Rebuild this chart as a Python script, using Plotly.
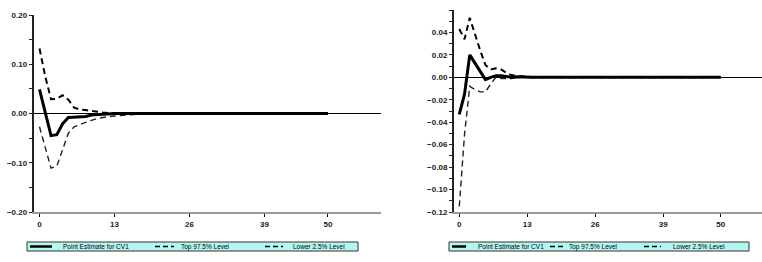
import plotly.graph_objects as go

# ---------------- data ----------------
periods = list(range(51))

# Left panel
left_point = [0.049, 0.002, -0.045, -0.043, -0.021, -0.008, -0.007, -0.007, -0.006, -0.003,
              -0.002, -0.001, 0.000, 0.000, 0.000, 0.000, 0.000, 0.000, 0.000, 0.000,
              0.000, 0.000, 0.000, 0.000, 0.000, 0.000, 0.000, 0.000, 0.000, 0.000,
              0.000, 0.000, 0.000, 0.000, 0.000, 0.000, 0.000, 0.000, 0.000, 0.000,
              0.000, 0.000, 0.000, 0.000, 0.000, 0.000, 0.000, 0.000, 0.000, 0.000, 0.000]
left_upper = [0.132, 0.075, 0.029, 0.030, 0.037, 0.028, 0.012, 0.008, 0.007, 0.005,
              0.004, 0.002, 0.001, 0.000, 0.000, 0.000, 0.000, 0.000, 0.000, 0.000,
              0.000, 0.000, 0.000, 0.000, 0.000, 0.000, 0.000, 0.000, 0.000, 0.000,
              0.000, 0.000, 0.000, 0.000, 0.000, 0.000, 0.000, 0.000, 0.000, 0.000,
              0.000, 0.000, 0.000, 0.000, 0.000, 0.000, 0.000, 0.000, 0.000, 0.000, 0.000]
left_lower = [-0.027, -0.072, -0.111, -0.107, -0.075, -0.040, -0.027, -0.022, -0.018, -0.014,
              -0.010, -0.008, -0.006, -0.005, -0.004, -0.003, -0.002, -0.001, 0.000, 0.000,
              0.000, 0.000, 0.000, 0.000, 0.000, 0.000, 0.000, 0.000, 0.000, 0.000,
              0.000, 0.000, 0.000, 0.000, 0.000, 0.000, 0.000, 0.000, 0.000, 0.000,
              0.000, 0.000, 0.000, 0.000, 0.000, 0.000, 0.000, 0.000, 0.000, 0.000, 0.000]

# Right panel
right_point = [-0.033, -0.015, 0.020, 0.013, 0.005, -0.002, 0.000, 0.0015, 0.0015, 0.001,
               0.000, 0.0005, 0.0002, 0.000, 0.000, 0.000, 0.000, 0.000, 0.000, 0.000,
               0.000, 0.000, 0.000, 0.000, 0.000, 0.000, 0.000, 0.000, 0.000, 0.000,
               0.000, 0.000, 0.000, 0.000, 0.000, 0.000, 0.000, 0.000, 0.000, 0.000,
               0.000, 0.000, 0.000, 0.000, 0.000, 0.000, 0.000, 0.000, 0.000, 0.000, 0.000]
right_upper = [0.043, 0.034, 0.053, 0.038, 0.024, 0.011, 0.007, 0.008, 0.007, 0.004,
               0.002, 0.001, 0.001, 0.000, 0.000, 0.000, 0.000, 0.000, 0.000, 0.000,
               0.000, 0.000, 0.000, 0.000, 0.000, 0.000, 0.000, 0.000, 0.000, 0.000,
               0.000, 0.000, 0.000, 0.000, 0.000, 0.000, 0.000, 0.000, 0.000, 0.000,
               0.000, 0.000, 0.000, 0.000, 0.000, 0.000, 0.000, 0.000, 0.000, 0.000, 0.000]
right_lower = [-0.115, -0.051, -0.008, -0.011, -0.013, -0.013, -0.006, 0.000, -0.001, -0.001,
               -0.001, 0.000, 0.000, 0.000, 0.000, 0.000, 0.000, 0.000, 0.000, 0.000,
               0.000, 0.000, 0.000, 0.000, 0.000, 0.000, 0.000, 0.000, 0.000, 0.000,
               0.000, 0.000, 0.000, 0.000, 0.000, 0.000, 0.000, 0.000, 0.000, 0.000,
               0.000, 0.000, 0.000, 0.000, 0.000, 0.000, 0.000, 0.000, 0.000, 0.000, 0.000]

x_ticks = [0, 13, 26, 39, 50]
left_y_ticks = [-0.20, -0.10, 0.00, 0.10, 0.20]
right_y_ticks = [-0.12, -0.10, -0.08, -0.06, -0.04, -0.02, 0.00, 0.02, 0.04]
legend_labels = ["Point Estimate for CV1", "Top 97.5% Level", "Lower 2.5% Level"]

# ---------------- figure ----------------
W, H = 762, 262


def px(x):
    return x / W


def py(y):
    return (H - y) / H


fig = go.Figure()

DASH = "6px,4px"
for xa, ya, pt, up, lo in [("x", "y", left_point, left_upper, left_lower),
                           ("x2", "y2", right_point, right_upper, right_lower)]:
    fig.add_trace(go.Scatter(x=periods, y=up, xaxis=xa, yaxis=ya, mode="lines",
                             line=dict(color="black", width=2, dash=DASH),
                             name=legend_labels[1], showlegend=False))
    fig.add_trace(go.Scatter(x=periods, y=lo, xaxis=xa, yaxis=ya, mode="lines",
                             line=dict(color="#222", width=1.4, dash=DASH),
                             name=legend_labels[2], showlegend=False))
    fig.add_trace(go.Scatter(x=periods, y=pt, xaxis=xa, yaxis=ya, mode="lines",
                             line=dict(color="black", width=3),
                             name=legend_labels[0], showlegend=False))

tick_font = dict(family="Liberation Sans, Arial, sans-serif", size=8, color="#222", weight="bold")

xcommon = dict(tickvals=x_ticks, showline=True, linecolor="#9a9a9a", linewidth=2,
               ticks="outside", ticklen=3, tickcolor="black", tickwidth=1,
               showgrid=False, zeroline=False, tickfont=tick_font, automargin=False)
ycommon = dict(showline=True, linecolor="#222", linewidth=1.5,
               ticks="outside", ticklen=3, tickcolor="#222", tickwidth=1,
               showgrid=False, zeroline=True, zerolinecolor="black", zerolinewidth=1,
               tickfont=tick_font, tickformat=".2f", automargin=False)

fig.update_layout(
    width=W, height=H,
    margin=dict(l=0, r=0, t=0, b=0),
    paper_bgcolor="white", plot_bgcolor="white",
    showlegend=False,
    xaxis=dict(domain=[px(33.5), px(381)], range=[-1.04, 59.2], anchor="y", **xcommon),
    yaxis=dict(domain=[py(212), py(15)], range=[-0.20, 0.20], anchor="x",
               tickvals=left_y_ticks,
               minor=dict(dtick=0.05, ticks="outside", ticklen=3, tickcolor="#222"),
               **ycommon),
    xaxis2=dict(domain=[px(453.7), 1.0], range=[-1.07, 57.9], anchor="y2", **xcommon),
    yaxis2=dict(domain=[py(212), py(10)], range=[-0.12, 0.06], anchor="x2",
                tickvals=right_y_ticks,
                minor=dict(dtick=0.01, ticks="outside", ticklen=3, tickcolor="#222"),
                **ycommon),
)

# ---------------- legends (drawn boxes) ----------------
leg_font = dict(family="Liberation Sans, Arial, sans-serif", size=6.5, color="black")
shapes = []
annotations = []
legend_specs = [
    # box x0, x1, solid sample, dash1 sample, dash2 sample, text starts
    (27, 358, (30, 52), (155, 174), (265, 283), (61, 179, 291)),
    (449, 749, (452, 466), (550, 563), (644, 661), (476, 567, 671)),
]
ytop, ybot, ymid = 242, 251, 246.5
for bx0, bx1, s, d1, d2, tx in legend_specs:
    shapes.append(dict(type="rect", xref="paper", yref="paper",
                       x0=px(bx0), x1=px(bx1), y0=py(ybot), y1=py(ytop),
                       fillcolor="#b6f6f1", line=dict(color="#333", width=1), layer="above"))
    shapes.append(dict(type="line", xref="paper", yref="paper",
                       x0=px(s[0]), x1=px(s[1]), y0=py(ymid), y1=py(ymid),
                       line=dict(color="black", width=2.5), layer="above"))
    for d in (d1, d2):
        shapes.append(dict(type="line", xref="paper", yref="paper",
                           x0=px(d[0]), x1=px(d[1]), y0=py(ymid), y1=py(ymid),
                           line=dict(color="black", width=1.5, dash="5px,3px"), layer="above"))
    for label, t in zip(legend_labels, tx):
        annotations.append(dict(text=label, xref="paper", yref="paper",
                                x=px(t), y=py(ymid), xanchor="left", yanchor="middle",
                                showarrow=False, font=leg_font))

fig.update_layout(shapes=shapes, annotations=annotations)

fig.write_html("out.html",
               config={"displayModeBar": False},
               post_script="document.body.style.margin='0';document.body.style.overflow='hidden';")
